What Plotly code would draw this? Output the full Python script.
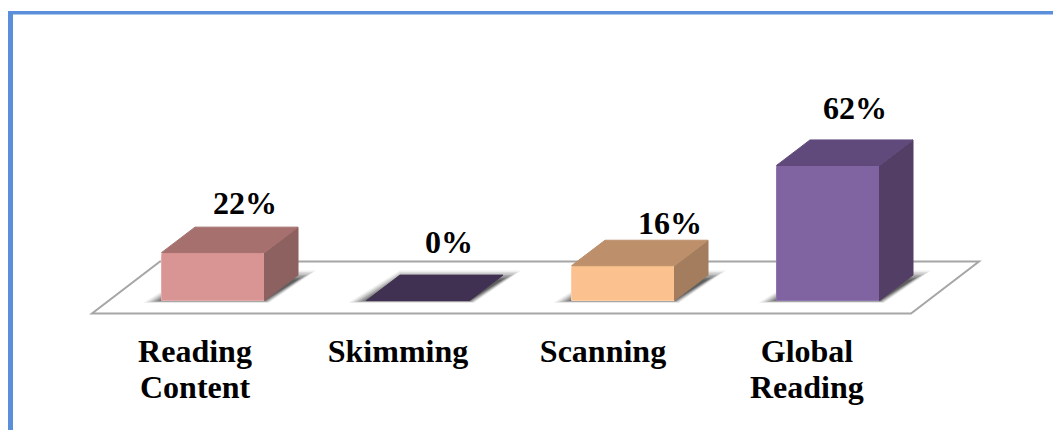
import plotly.graph_objects as go

category_line1 = ["Reading", "Skimming", "Scanning", "Global"]
category_line2 = ["Content", "", "", "Reading"]
values = [22, 0, 16, 62]
value_labels = ["22%", "0%", "16%", "62%"]

front_colors = ["#D99594", "#403152", "#FBC18E", "#8064A2"]
top_colors = ["#A5706E", "#403152", "#BD906B", "#604A7B"]
side_colors = ["#8C615F", "#403152", "#A37D5D", "#533F66"]
edge_colors = ["#E3AAA9", "#403152", "#FFCFA3", "#8F75AF"]

W, H = 1053, 430
PX_PER_CAT = 205.0
PX_PER_PCT = 2.18
ZERO_PX = 300.6
FIRST_CENTER_PX = 213.0
AXIS_BOTTOM_PX = 329.0
BAR_W = 103 / PX_PER_CAT
DX = 33.5 / PX_PER_CAT
DY = 25.5 / PX_PER_PCT
FONT = dict(family="Liberation Serif", size=32, color="black", weight="bold")


def ux(px):
    return px / PX_PER_CAT


def uy(px):
    return px / PX_PER_PCT


x_range = [-FIRST_CENTER_PX / PX_PER_CAT, (W - FIRST_CENTER_PX) / PX_PER_CAT]
y_range = [-(AXIS_BOTTOM_PX - ZERO_PX) / PX_PER_PCT, ZERO_PX / PX_PER_PCT]
positions = list(range(len(values)))
half = BAR_W / 2

fig = go.Figure()

# front faces
fig.add_trace(go.Bar(
    x=positions, y=values, width=BAR_W,
    marker=dict(color=front_colors, line=dict(color=edge_colors, width=1)),
    hoverinfo="skip", showlegend=False,
))

# top and side faces, derived from the values
for i, (p, v) in enumerate(zip(positions, values)):
    l, r = p - half, p + half
    if v > 0:
        fig.add_trace(go.Scatter(
            x=[r, r + DX, r + DX, r, r], y=[0, DY, v + DY, v, 0],
            mode="lines", fill="toself", fillcolor=side_colors[i],
            line=dict(color=side_colors[i], width=1),
            hoverinfo="skip", showlegend=False,
        ))
    fig.add_trace(go.Scatter(
        x=[l, r, r + DX, l + DX, l], y=[v, v, v + DY, v + DY, v],
        mode="lines", fill="toself", fillcolor=top_colors[i],
        line=dict(color=top_colors[i], width=1),
        hoverinfo="skip", showlegend=False,
    ))

shapes = []

# floor plate
floor_x = [ux(92) + x_range[0], ux(911) + x_range[0], ux(979) + x_range[0], ux(160) + x_range[0]]
floor_y = [uy(ZERO_PX - 313.5), uy(ZERO_PX - 313.5), uy(ZERO_PX - 261.5), uy(ZERO_PX - 261.5)]
floor_path = "M " + " L ".join(f"{a},{b}" for a, b in zip(floor_x, floor_y)) + " Z"
shapes.append(dict(type="path", path=floor_path, xref="x", yref="y", layer="below",
                   fillcolor="white", line=dict(color="#A6A6A6", width=2)))

# soft ground shadows: nested translucent polygons
for p, v in zip(positions, values):
    l, r = p - half, p + half
    for grow, op in [(18, 0.08), (15, 0.10), (12, 0.14), (9, 0.18), (6, 0.22), (3, 0.26), (0, 0.30)]:
        sx = [l - ux(grow), r + ux(grow / 4), r + DX + ux(grow), l + DX]
        sy = [uy(-grow / 8), uy(-grow / 8), uy(21 + grow / 2), uy(21 + grow / 2)]
        path = "M " + " L ".join(f"{a},{b}" for a, b in zip(sx, sy)) + " Z"
        shapes.append(dict(type="path", path=path, xref="x", yref="y", layer="below",
                           fillcolor="#303030", opacity=op, line=dict(width=0)))

# blue frame
frame = "#5B8FD9"
shapes.append(dict(type="rect", xref="paper", yref="paper", x0=8 / W, x1=1, y0=1 - 14.5 / H, y1=1 - 11 / H,
                   fillcolor=frame, line=dict(width=0), layer="above"))
shapes.append(dict(type="rect", xref="paper", yref="paper", x0=8 / W, x1=13 / W, y0=0, y1=1 - 11 / H,
                   fillcolor=frame, line=dict(width=0), layer="above"))

# value labels
label_dx = [32, 31, 47, 27]
label_dy = [50, 59, 43, 57]
annotations = [
    dict(x=p, y=v, xref="x", yref="y", text=t, showarrow=False, xshift=dx, yshift=dy, font=FONT)
    for p, v, t, dx, dy in zip(positions, values, value_labels, label_dx, label_dy)
]

# category labels: first line is the tick label, second line sits 37 px lower
tick_shift = [-18 / PX_PER_CAT, -20 / PX_PER_CAT, -20 / PX_PER_CAT, -21 / PX_PER_CAT]
tick_pos = [p + o for p, o in zip(positions, tick_shift)]
for t, text in zip(tick_pos, category_line2):
    if text:
        annotations.append(dict(x=t, y=y_range[0], xref="x", yref="y", text=text, showarrow=False,
                                yshift=-58, font=FONT))

fig.update_layout(
    width=W, height=H, margin=dict(l=0, r=0, t=0, b=0),
    paper_bgcolor="white", plot_bgcolor="rgba(0,0,0,0)",
    bargap=0, shapes=shapes, annotations=annotations, barcornerradius=3,
    showlegend=False,
)
fig.update_xaxes(
    range=x_range, showgrid=False, zeroline=False, showline=False, ticks="",
    tickmode="array", tickvals=tick_pos, ticktext=category_line1, tickangle=0, tickfont=FONT,
)
fig.update_yaxes(range=y_range, domain=[1 - AXIS_BOTTOM_PX / H, 1], visible=False)

fig.write_html("out.html", post_script="document.body.style.margin='0';document.body.style.overflow='hidden';",
               config={"displayModeBar": False})
